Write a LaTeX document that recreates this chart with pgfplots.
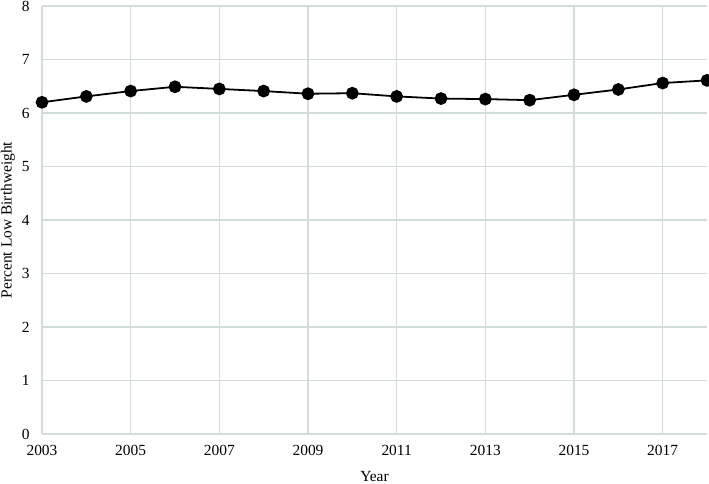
\documentclass[border=0pt]{standalone}
\usepackage{pgfplots}
\pgfplotsset{compat=1.18}
\usepackage{fontspec}
\setmainfont{Liberation Serif}
\definecolor{gridc}{RGB}{210,220,220}
\begin{document}
\begin{tikzpicture}[x=1bp,y=1bp]
\begin{axis}[
  name=ax,
  scale only axis,
  width=665bp, height=428bp,
  xmin=2003, xmax=2018, ymin=0, ymax=8,
  xtick={2003,2005,...,2017},
  ytick={0,1,...,8},
  xticklabel style={/pgf/number format/1000 sep={}},
  /pgf/number format/assume math mode=true,
  tick style={draw=none},
  grid=major,
  major grid style={draw=gridc, line width=1.3pt},
  axis x line*=bottom, axis y line*=left,
  x axis line style={draw=gridc, line width=1.3pt, -},
  y axis line style={draw=none, -},
  ticklabel style={font=\fontsize{15.5}{17}\selectfont},
  yticklabel style={xshift=-9bp},
  xticklabel style={yshift=-8bp},
  xlabel={Year}, ylabel={Percent Low Birthweight},
  label style={font=\fontsize{15.5}{17}\selectfont},
  xlabel style={at={(axis description cs:0.5,0)}, anchor=center, yshift=-43bp},
  ylabel style={at={(axis description cs:0,0.5)}, anchor=center, yshift=34bp},
  clip=false,
]
\addplot[black, line width=1.8pt, mark=*, mark size=5.5pt] coordinates {
(2003,6.2) (2004,6.31) (2005,6.41) (2006,6.49) (2007,6.45) (2008,6.41)
(2009,6.36) (2010,6.37) (2011,6.31) (2012,6.27) (2013,6.26) (2014,6.24)
(2015,6.34) (2016,6.44) (2017,6.56) (2018,6.61)};
\end{axis}
\pgfresetboundingbox
\path[use as bounding box] ([xshift=-42bp,yshift=-50bp]ax.south west) rectangle ([xshift=2bp,yshift=6bp]ax.north east);
\end{tikzpicture}
\end{document}
